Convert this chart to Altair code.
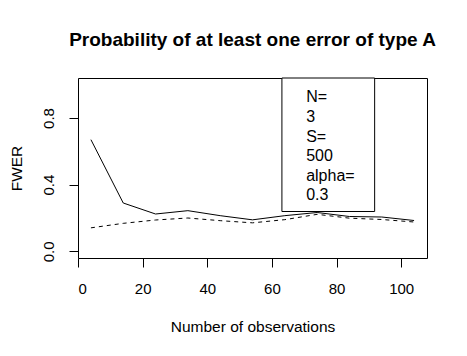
import altair as alt
import pandas as pd

# Data
obs = [4, 14, 24, 34, 44, 54, 64, 74, 84, 94, 104]
fwer_solid = [0.670, 0.290, 0.224, 0.244, 0.214, 0.189, 0.214, 0.233, 0.209, 0.206, 0.185]
fwer_dashed = [0.141, 0.168, 0.188, 0.200, 0.184, 0.171, 0.190, 0.222, 0.199, 0.191, 0.176]
x_ticks = [0, 20, 40, 60, 80, 100]
y_ticks = [0.0, 0.2, 0.4, 0.6, 0.8, 1.0]
y_labels = ["0.0", "0.4", "0.8"]
legend_lines = ["N=", "3", "S=", "500", "alpha=", "0.3"]
legend_box = {"x1": [63.1], "x2": [91.8], "y1": [0.239], "y2": [1.04]}
legend_text_pos = {"x": [70.6], "y": [0.972]}

FONT = "Liberation Sans"

df = pd.DataFrame({"obs": obs, "solid": fwer_solid, "dashed": fwer_dashed})

xscale = alt.Scale(domain=[0, 108], nice=False, zero=False)
yscale = alt.Scale(domain=[-0.04, 1.04], nice=False, zero=False)

label_expr = "indexof(" + str(y_labels) + ", format(datum.value, '.1f')) >= 0 ? format(datum.value, '.1f') : ''"

xaxis = alt.Axis(values=x_ticks, title="Number of observations", grid=False, domain=False,
                 tickColor="black", tickSize=9, labelFont=FONT, labelFontSize=15,
                 labelColor="black", labelPadding=14, labelBaseline="top",
                 titleFont=FONT, titleFontSize=15.5, titleFontWeight="normal",
                 titleColor="black", titleX=174.5, titleY=68,
                 titleBaseline="middle", titleAlign="center")
yaxis = alt.Axis(values=y_ticks, title="FWER", grid=False, domain=False,
                 tickColor="black", tickSize=9, labelFont=FONT, labelFontSize=15,
                 labelColor="black", labelAngle=270, labelAlign="center",
                 labelBaseline="bottom", labelPadding=13, labelExpr=label_expr,
                 titleFont=FONT, titleFontSize=15.5, titleFontWeight="normal",
                 titleColor="black", titleX=-62, titleY=90,
                 titleBaseline="middle", titleAlign="center")

solid = alt.Chart(df).mark_line(color="black", strokeWidth=1).encode(
    x=alt.X("obs:Q", scale=xscale, axis=xaxis),
    y=alt.Y("solid:Q", scale=yscale, axis=yaxis),
)
dashed = alt.Chart(df).mark_line(color="black", strokeWidth=1, strokeDash=[4, 4]).encode(
    x=alt.X("obs:Q", scale=xscale),
    y=alt.Y("dashed:Q", scale=yscale),
)

box = alt.Chart(pd.DataFrame(legend_box)).mark_rect(
    fill="white", stroke="black", strokeWidth=1
).encode(
    x=alt.X("x1:Q", scale=xscale), x2="x2:Q",
    y=alt.Y("y1:Q", scale=yscale), y2="y2:Q",
)

txt = alt.Chart(pd.DataFrame(legend_text_pos)).mark_text(
    text=legend_lines, font=FONT, fontSize=16, align="left", baseline="top",
    lineHeight=19.6, color="black"
).encode(
    x=alt.X("x:Q", scale=xscale),
    y=alt.Y("y:Q", scale=yscale),
)

chart = alt.layer(solid, dashed, box, txt).properties(
    width=349, height=180,
    title=alt.TitleParams(
        "Probability of at least one error of type A",
        font=FONT, fontSize=19, fontWeight="bold", color="black",
        anchor="middle", baseline="alphabetic", offset=13,
    ),
    autosize=alt.AutoSizeParams(type="none"),
    padding={"left": 70, "top": 70, "right": 20, "bottom": 85},
).configure(background="white").configure_view(stroke="black", strokeWidth=1)

chart.save("out.html", embed_options={"renderer": "svg", "actions": False})
